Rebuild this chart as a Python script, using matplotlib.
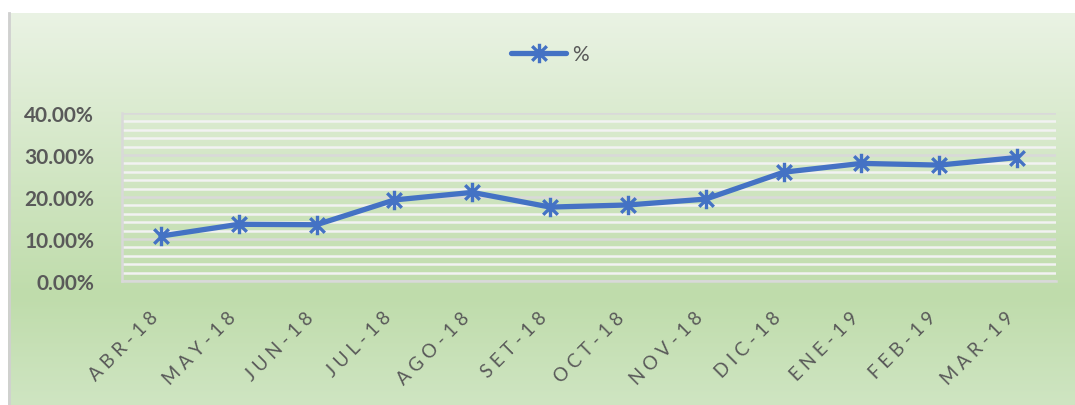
import numpy as np
import matplotlib
matplotlib.use("Agg")
import matplotlib.pyplot as plt
import matplotlib.transforms as mtransforms
from matplotlib.path import Path
from matplotlib.lines import Line2D
from matplotlib.ticker import MultipleLocator, PercentFormatter

months = ["ABR-18", "MAY-18", "JUN-18", "JUL-18", "AGO-18", "SET-18",
          "OCT-18", "NOV-18", "DIC-18", "ENE-19", "FEB-19", "MAR-19"]
pct = [10.7, 13.5, 13.4, 19.3, 21.1, 17.6, 18.1, 19.5, 25.9, 28.0, 27.6, 29.4]
yticks = [0, 10, 20, 30, 40]

plt.rcParams['font.family'] = ['Lato', 'DejaVu Sans']
TXT = '#595959'
BLUE = '#4472C4'

W, H = 1075, 406
fig = plt.figure(figsize=(W / 100, H / 100), dpi=100)
fig.patch.set_facecolor('white')

# green gradient chart background
bg = fig.add_axes([8 / W, 0, 1 - 8 / W, 1 - 14 / H], zorder=-5)
t = np.linspace(0, 1, 400)
stops = [0.0, 0.72, 1.0]
cols = np.array([[234, 243, 228], [191, 220, 171], [207, 229, 194]]) / 255
grad = np.stack([np.interp(t, stops, cols[:, i]) for i in range(3)], axis=-1)
bg.imshow(grad[:, None, :], aspect='auto', extent=[0, 1, 0, 1])
bg.set_axis_off()
fig.add_artist(Line2D([8.5 / W, 8.5 / W], [0, 1 - 14 / H], color='#d0d0d0',
                      lw=2, transform=fig.transFigure))

ax = fig.add_axes([122 / W, 1 - 282 / H, (1056 - 122) / W, (282 - 114) / H])
ax.set_facecolor('none')

# asterisk-style marker: vertical stroke plus a cross
star = Path([(0, -1), (0, 1), (-0.75, -0.75), (0.75, 0.75), (-0.75, 0.75), (0.75, -0.75)],
            [Path.MOVETO, Path.LINETO] * 3)

x = np.arange(len(months))
ax.plot(x, pct, color=BLUE, lw=3.8, marker=star, ms=14, mew=2.4,
        mec=BLUE, mfc=BLUE, solid_joinstyle='round', solid_capstyle='round',
        label='%', zorder=5)

ax.yaxis.set_minor_locator(MultipleLocator(2))
ax.yaxis.set_major_formatter(PercentFormatter(xmax=100, decimals=2))
ax.set_yticks(yticks)
ax.set_xlim(-0.5, len(months) - 0.5)
ax.set_ylim(0, 40)
ax.grid(which='minor', axis='y', color='#f2f2f2', lw=1.8, zorder=1)
ax.grid(which='major', axis='y', color='#d9d9d9', lw=1.8, zorder=2)
ax.set_axisbelow(True)

for side in ['top', 'right']:
    ax.spines[side].set_visible(False)
for side in ['left', 'bottom']:
    ax.spines[side].set_color('#d9d9d9')
    ax.spines[side].set_linewidth(1.8)

ax.tick_params(axis='both', which='both', length=0)
ax.tick_params(axis='y', labelsize=15, labelcolor=TXT, pad=20)
for lab in ax.get_yticklabels():
    lab.set_fontweight('bold')

spaced = [' '.join(m) for m in months]
ax.set_xticks(x)
ax.set_xticklabels(spaced, rotation=45, ha='right', va='center',
                   rotation_mode='anchor', fontsize=13.5, color=TXT)
ax.tick_params(axis='x', pad=24)
shift = mtransforms.ScaledTranslation(-6 / 100, 0, fig.dpi_scale_trans)
for lab in ax.get_xticklabels():
    lab.set_transform(lab.get_transform() + shift)

leg = fig.legend(loc='center', bbox_to_anchor=(550 / W, 1 - 55 / H), frameon=False,
                 fontsize=15, handlelength=2.6, handletextpad=0.3,
                 labelcolor=TXT)

fig.savefig('out.png', dpi=100)
